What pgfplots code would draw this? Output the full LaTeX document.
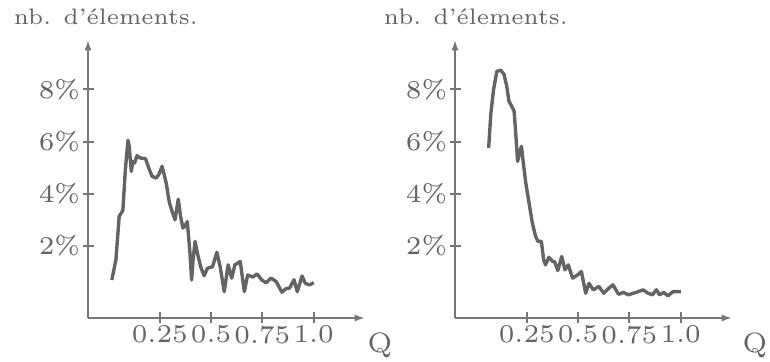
\documentclass[border=0pt]{standalone}
\usepackage{pgfplots}
\pgfplotsset{compat=1.18}
\usetikzlibrary{arrows.meta}
\definecolor{cline}{RGB}{100,100,100}
\definecolor{caxis}{RGB}{118,118,118}
\definecolor{ctext}{RGB}{100,100,100}
\pgfplotsset{
  myaxis/.style={
    scale only axis, width=69.25pt, height=69.5pt,
    xmin=-0.1, xmax=1.25, ymin=-0.77, ymax=9.9,
    axis lines=left,
    axis line style={caxis, line width=0.5pt, -{Latex[length=2.6pt,width=1.8pt]}},
    tick align=center, major tick length=2.75pt,
    every tick/.style={caxis, line width=0.5pt},
    xtick={0.25,0.5,0.75,1.0}, xticklabels={0.25,0.5,0.75,1.0},
    ytick={2,4,6,8}, yticklabels={2\%,4\%,6\%,8\%},
    ticklabel style={font=\fontsize{6.4}{7}\selectfont, text=ctext, inner sep=0.4pt},
    clip=false,
  },
  curve/.style={cline, line width=0.85pt, no marks, line join=round},
}
\begin{document}
\begin{tikzpicture}
\useasboundingbox (0,0) rectangle (192.5pt,90.5pt);
\begin{axis}[myaxis, at={(22pt,11pt)}, anchor=south west]
\addplot[curve] coordinates {
(0.016,0.69) (0.036,1.46) (0.052,3.13) (0.070,3.36) (0.082,4.92) (0.095,6.05)
(0.101,5.82) (0.111,4.86) (0.119,5.24) (0.127,5.18) (0.139,5.46) (0.155,5.37)
(0.180,5.35) (0.196,4.99) (0.212,4.67) (0.232,4.60) (0.245,4.73) (0.261,5.05)
(0.281,4.41) (0.297,3.64) (0.310,3.32) (0.324,3.00) (0.340,3.79) (0.351,3.13)
(0.363,2.68) (0.373,2.77) (0.384,2.93) (0.397,1.72) (0.405,0.69) (0.412,1.46)
(0.422,2.17) (0.433,1.72) (0.449,1.20) (0.466,0.85) (0.482,1.14) (0.507,1.20)
(0.528,1.75) (0.544,1.20) (0.564,0.24) (0.583,1.27) (0.600,0.76) (0.616,1.27)
(0.642,1.40) (0.662,0.24) (0.678,0.88) (0.703,0.80) (0.724,0.92) (0.747,0.69)
(0.768,0.58) (0.792,0.76) (0.817,0.63) (0.845,0.22) (0.866,0.36) (0.882,0.37)
(0.904,0.70) (0.920,0.24) (0.943,0.84) (0.959,0.56) (0.980,0.50) (1.000,0.59)
};
\end{axis}
\begin{axis}[myaxis, at={(113.75pt,11pt)}, anchor=south west]
\addplot[curve] coordinates {
(0.064,5.76) (0.075,7.10) (0.088,8.00) (0.104,8.70) (0.123,8.74) (0.139,8.58)
(0.152,8.13) (0.163,7.55) (0.176,7.36) (0.188,7.17) (0.197,6.20) (0.205,5.24)
(0.216,5.63) (0.224,5.82) (0.232,5.24) (0.245,4.41) (0.261,3.64) (0.277,2.87)
(0.293,2.36) (0.304,2.17) (0.321,2.17) (0.332,1.46) (0.341,1.27) (0.357,1.56)
(0.376,1.40) (0.385,1.40) (0.401,1.05) (0.420,1.59) (0.436,1.08) (0.452,1.27)
(0.473,0.76) (0.497,0.88) (0.516,1.01) (0.537,0.18) (0.553,0.56) (0.574,0.31)
(0.601,0.44) (0.625,0.18) (0.649,0.37) (0.670,0.50) (0.697,0.14) (0.721,0.21)
(0.745,0.12) (0.769,0.18) (0.793,0.24) (0.817,0.31) (0.841,0.18) (0.862,0.12)
(0.881,0.31) (0.897,0.12) (0.917,0.21) (0.938,0.08) (0.962,0.24) (0.981,0.24)
(1.001,0.24)
};
\end{axis}
\node[anchor=base west, inner sep=0pt, text=ctext, font=\fontsize{5.6}{6}\selectfont] at (3.25pt,84.25pt) {nb. d'élements.};
\node[anchor=base west, inner sep=0pt, text=ctext, font=\fontsize{5.6}{6}\selectfont] at (95.75pt,84.25pt) {nb. d'élements.};
\node[anchor=center, inner sep=0pt, text=ctext, font=\fontsize{7}{8}\selectfont] at (95pt,4.25pt) {Q};
\node[anchor=center, inner sep=0pt, text=ctext, font=\fontsize{7}{8}\selectfont] at (188.75pt,4.25pt) {Q};
\end{tikzpicture}
\end{document}
